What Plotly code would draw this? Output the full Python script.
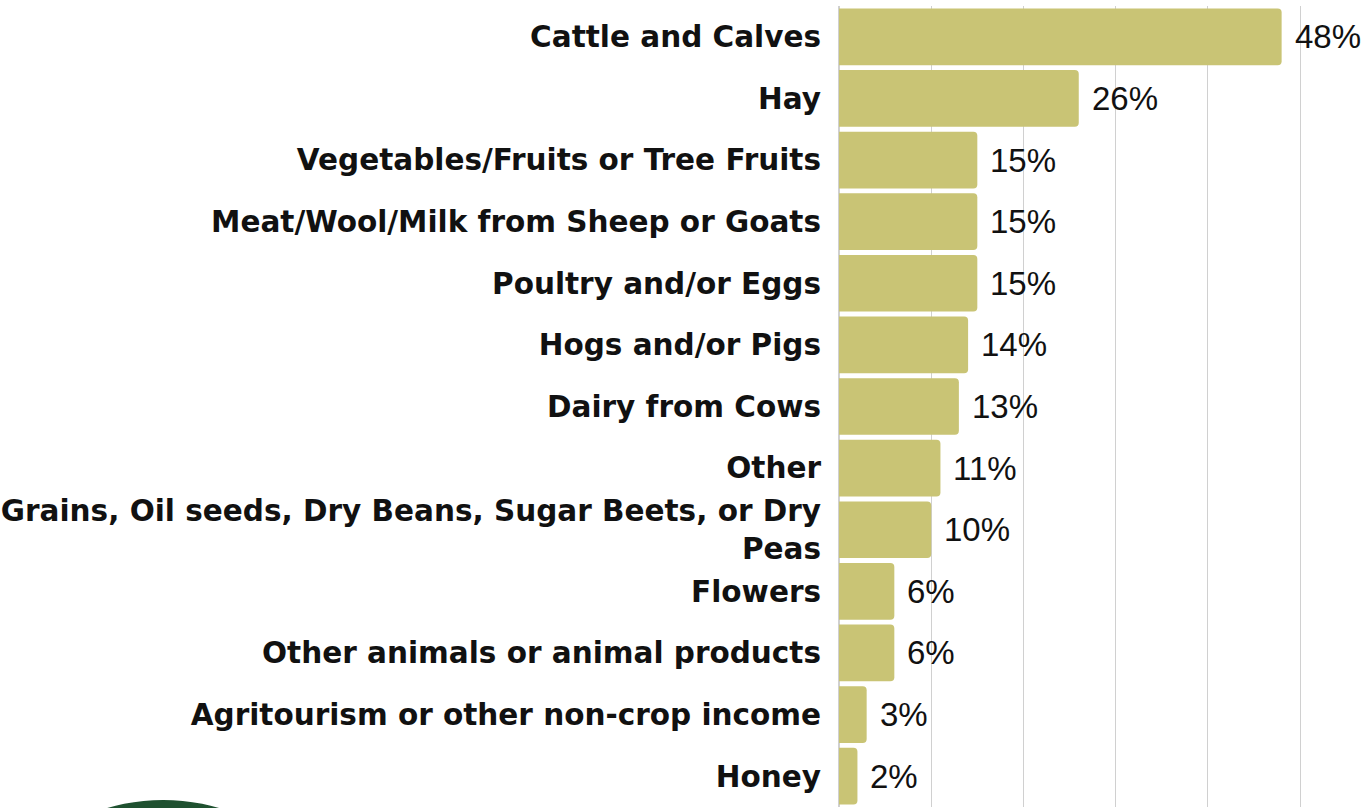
import plotly.graph_objects as go

# Share of farms reporting each product category (%)
categories = [
    "Cattle and Calves",
    "Hay",
    "Vegetables/Fruits or Tree Fruits",
    "Meat/Wool/Milk from Sheep or Goats",
    "Poultry and/or Eggs",
    "Hogs and/or Pigs",
    "Dairy from Cows",
    "Other",
    "Grains, Oil seeds, Dry Beans, Sugar Beets, or Dry<br>Peas",
    "Flowers",
    "Other animals or animal products",
    "Agritourism or other non-crop income",
    "Honey",
]
values = [48, 26, 15, 15, 15, 14, 13, 11, 10, 6, 6, 3, 2]
value_labels = [f"{v}%" for v in values]

BAR_COLOR = "#C9C475"

fig = go.Figure(
    go.Bar(
        x=values,
        y=categories,
        orientation="h",
        marker=dict(color=BAR_COLOR, line=dict(width=0)),
        hoverinfo="x+y",
    )
)

# value labels placed just past the end of each bar
annotations = [
    dict(
        x=v,
        y=c,
        xref="x",
        yref="y",
        text=t,
        showarrow=False,
        xanchor="left",
        yanchor="middle",
        xshift=11,
        font=dict(family="Liberation Sans, Arial, sans-serif", size=33, color="#111111"),
    )
    for c, v, t in zip(categories, values, value_labels)
]

fig.update_layout(
    width=1372,
    height=808,
    margin=dict(l=839, r=0, t=6, b=1),
    paper_bgcolor="white",
    plot_bgcolor="white",
    showlegend=False,
    bargap=0.08,
    barcornerradius=4,
    annotations=annotations,
    xaxis=dict(
        range=[0, 57.8],
        dtick=10,
        showgrid=True,
        gridcolor="#D0D0D0",
        gridwidth=1,
        zeroline=True,
        zerolinecolor="#D0D0D0",
        showticklabels=False,
        fixedrange=True,
    ),
    yaxis=dict(
        autorange="reversed",
        tickfont=dict(family="DejaVu Sans, sans-serif", size=29.5, color="#111111", weight="bold"),
        ticklabelstandoff=17,
        showgrid=False,
        fixedrange=True,
    ),
    shapes=[
        # edge of the dark green logo peeking in at the lower left
        dict(
            type="circle",
            xref="paper",
            yref="paper",
            x0=-1.643,
            x1=-0.893,
            y0=-0.49,
            y1=0.0087,
            fillcolor="#1F5130",
            line=dict(width=0),
            layer="above",
        )
    ],
)

fig.write_html("out.html")
